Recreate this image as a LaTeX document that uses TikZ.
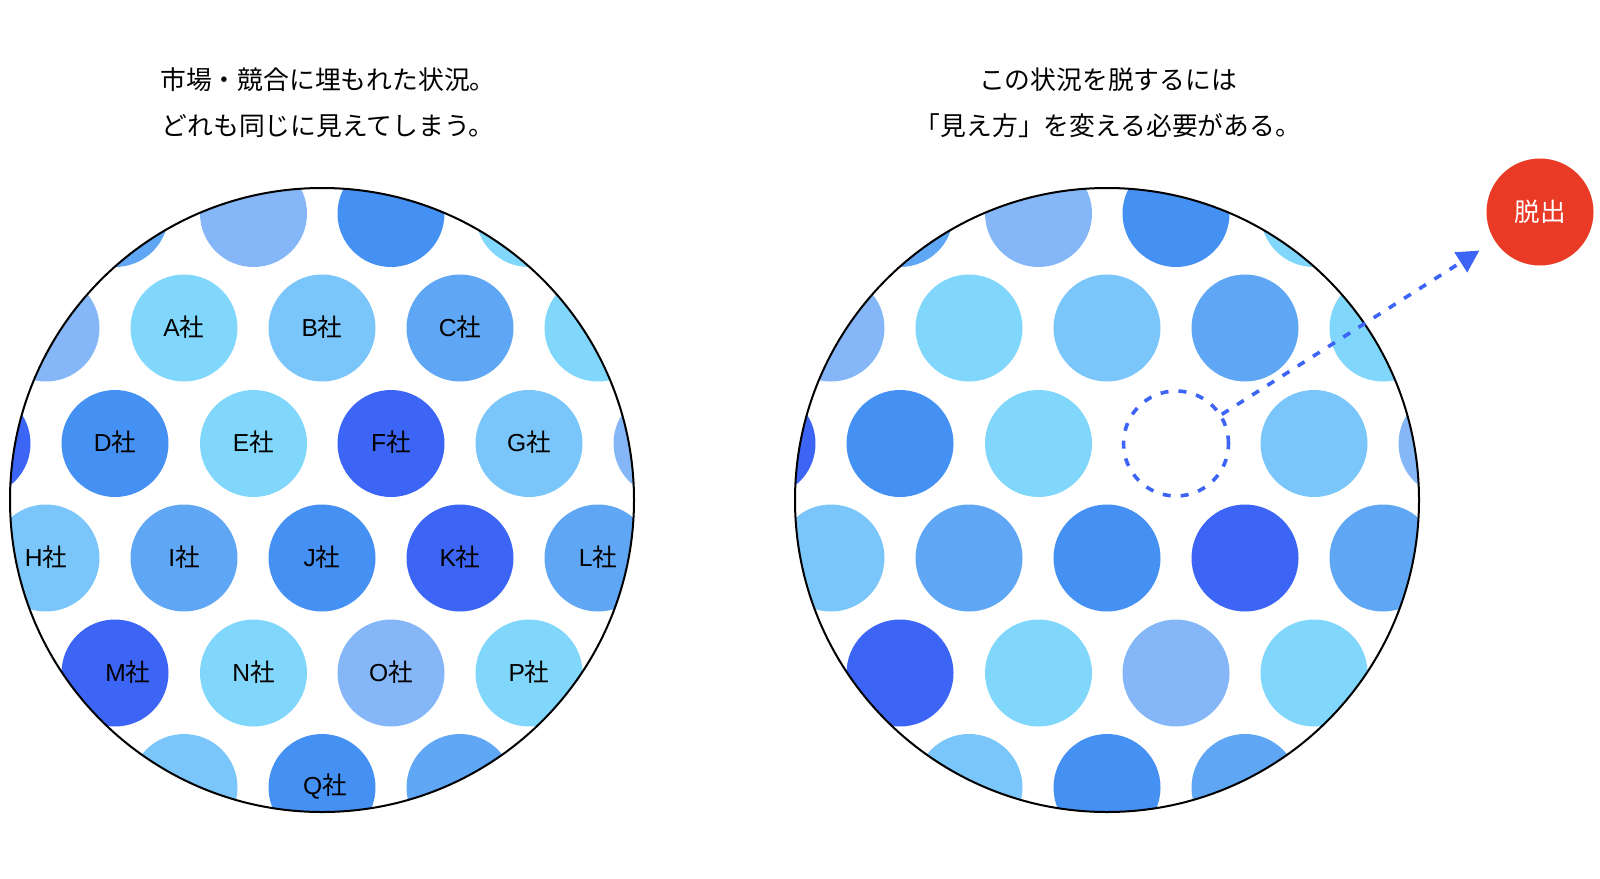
\documentclass[tikz,border=0pt]{standalone}
\usepackage{fontspec}
\setmainfont{Noto Sans CJK JP}
\newfontfamily\latinsf{Liberation Sans}
\usetikzlibrary{arrows.meta}

\definecolor{cyanA}{HTML}{80D7FB}
\definecolor{skyB}{HTML}{7AC5F9}
\definecolor{midC}{HTML}{5FA6F5}
\definecolor{blueD}{HTML}{4590F3}
\definecolor{deepE}{HTML}{3C64F5}
\definecolor{lavF}{HTML}{85B7F8}
\definecolor{exitred}{HTML}{E93A26}

\tikzset{
	firm/.style={circle,fill=#1,minimum size=53.5pt,inner sep=0pt},
	firmtext/.style={inner sep=0pt,font=\fontsize{12.3pt}{14pt}\selectfont},
	field/.style={draw=black,line width=1pt},
	headline/.style={align=center,font=\fontsize{12.9pt}{23pt}\selectfont},
	gapline/.style={draw=deepE,line width=1.8pt,dash pattern=on 4pt off 5pt}
}

\begin{document}
\begin{tikzpicture}[x=0.5pt,y=-0.5pt]
	\useasboundingbox (0,0) rectangle (1600,878);

	% Titel
	\node[headline] (lefttitle) at (328,103) {市場・競合に埋もれた状況。\\どれも同じに見えてしまう。};
	\node[headline] (righttitle) at (1108,103) {この状況を脱するには\\「見え方」を変える必要がある。};

	% linkes Feld
	\begin{scope}
		\clip (322,500) circle (312);
		\foreach \x/\y/\c [count=\i] in {115/213.5/midC, 253.5/213.5/lavF, 391/213.5/blueD, 529/213.5/cyanA,
			46/328/lavF, 598/328/cyanA, -23/443.5/deepE, 667/443.5/lavF,
			184/787.5/skyB, 460/787.5/midC} {{
			\node[firm=\c] (lp\i) at (\x,\y) {};
		}}
		\foreach \x/\y/\c/\t/\s in {184/328/cyanA/A/0, 322/328/skyB/B/0, 460/328/midC/C/0,
			115/443.5/blueD/D/0, 253.5/443.5/cyanA/E/0, 391/443.5/deepE/F/0, 529/443.5/skyB/G/0,
			46/558/skyB/H/0, 184/558/midC/I/0, 322/558/blueD/J/0, 460/558/deepE/K/0, 598/558/midC/L/0,
			115/673/deepE/M/13, 253.5/673/cyanA/N/0, 391/673/lavF/O/0, 529/673/cyanA/P/0,
			322/787.5/blueD/Q/3} {{
			\node[firm=\c] (\t) at (\x,\y) {};
			\node[firmtext] (\t-text) at ([xshift=\s*0.5pt,yshift=0.5pt]\t) {{\latinsf\t}社};
		}}
	\end{scope}
	\draw[field] (322,500) circle (312);

	% rechtes Feld
	\begin{scope}
		\clip (1107,500) circle (312);
		\foreach \x/\y/\c [count=\i] in {115/213.5/midC, 253.5/213.5/lavF, 391/213.5/blueD, 529/213.5/cyanA,
			46/328/lavF, 184/328/cyanA, 322/328/skyB, 460/328/midC, 598/328/cyanA,
			-23/443.5/deepE, 115/443.5/blueD, 253.5/443.5/cyanA, 529/443.5/skyB, 667/443.5/lavF,
			46/558/skyB, 184/558/midC, 322/558/blueD, 460/558/deepE, 598/558/midC,
			115/673/deepE, 253.5/673/cyanA, 391/673/lavF, 529/673/cyanA,
			184/787.5/skyB, 322/787.5/blueD, 460/787.5/midC} {{
			\node[firm=\c] (rp\i) at (\x+785,\y) {};
		}}
	\end{scope}
	\draw[field] (1107,500) circle (312);

	% Ausstieg
	\node[circle,minimum size=52.5pt,inner sep=0pt,gapline] (gap) at (1176,443.5) {};
	\node[firm=exitred,text=white,font=\fontsize{12.8pt}{14pt}\selectfont] (exit) at (1540,212) {脱出};
	\draw[gapline,-{Triangle[length=11pt,width=11.5pt]},shorten >=9pt] (gap) -- (exit);
\end{tikzpicture}
\end{document}
